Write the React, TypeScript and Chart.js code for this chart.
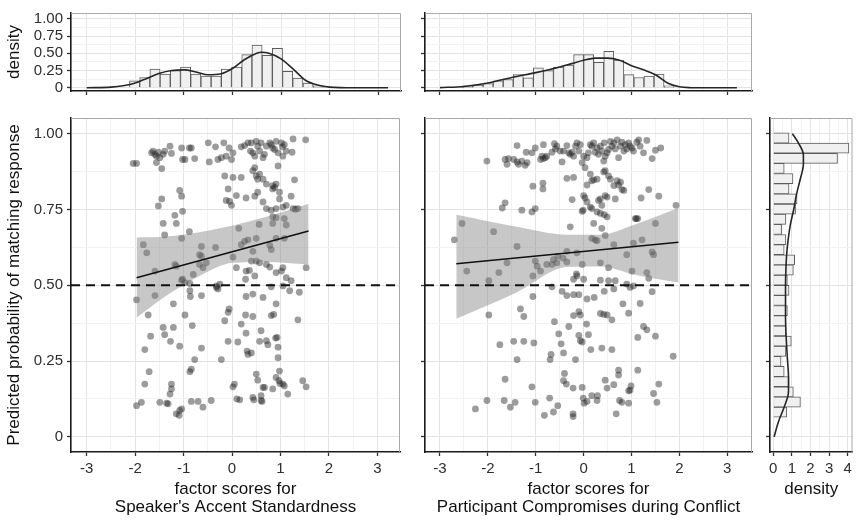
import React, { useEffect, useRef } from 'react';
import { Chart, registerables } from 'chart.js';

Chart.register(...registerables);

const FONT = '"Liberation Sans", Arial, Helvetica, sans-serif';

// ---------- tick values / labels ----------
const scoreTicks = [-3, -2, -1, 0, 1, 2, 3];
const scoreTickLabels = ['-3', '-2', '-1', '0', '1', '2', '3'];
const scoreMinor = [-2.5, -1.5, -0.5, 0.5, 1.5, 2.5];
const probTicks = [0, 0.25, 0.5, 0.75, 1];
const probTickLabels = ['0', '0.25', '0.50', '0.75', '1.00'];
const probMinor = [0.125, 0.375, 0.625, 0.875];
const densTicks = [0, 1, 2, 3, 4];
const densTickLabels = ['0', '1', '2', '3', '4'];
const densMinor = [0.5, 1.5, 2.5, 3.5];

// ---------- top-left histogram (accent standardness) ----------
const accentBinMid = [-2.015, -1.805, -1.595, -1.385, -1.175, -0.965, -0.755, -0.545, -0.335, -0.125, 0.085, 0.295, 0.505, 0.715, 0.925, 1.135, 1.345, 1.555, 1.765];
const accentBinDensity = [0.10, 0.15, 0.27, 0.20, 0.25, 0.30, 0.20, 0.17, 0.17, 0.27, 0.30, 0.48, 0.62, 0.47, 0.57, 0.24, 0.14, 0.07, 0.03];
const accentCurveX = [-3, -2.5, -2.25, -2, -1.75, -1.5, -1.25, -1, -0.75, -0.5, -0.25, 0, 0.25, 0.5, 0.6, 0.75, 1, 1.25, 1.5, 1.75, 2, 2.5, 3.2];
const accentCurveY = [0, 0.01, 0.03, 0.07, 0.14, 0.21, 0.25, 0.26, 0.23, 0.19, 0.2, 0.28, 0.41, 0.5, 0.515, 0.5, 0.42, 0.27, 0.11, 0.04, 0.01, 0, 0];

// ---------- top-middle histogram (compromises) ----------
const conflictBinMid = [-2.835, -2.625, -2.415, -2.205, -1.995, -1.785, -1.575, -1.365, -1.155, -0.945, -0.735, -0.525, -0.315, -0.105, 0.105, 0.315, 0.525, 0.735, 0.945, 1.155, 1.365, 1.575, 1.785];
const conflictBinDensity = [0.01, 0.01, 0.03, 0.04, 0.06, 0.10, 0.12, 0.19, 0.145, 0.29, 0.25, 0.30, 0.33, 0.48, 0.48, 0.37, 0.53, 0.40, 0.19, 0.15, 0.17, 0.20, 0.03];
const conflictCurveX = [-3, -2.5, -2, -1.5, -1, -0.5, -0.25, 0, 0.25, 0.5, 0.75, 1, 1.25, 1.5, 1.75, 2, 2.25, 2.5, 3.2];
const conflictCurveY = [0.003, 0.02, 0.07, 0.15, 0.22, 0.3, 0.35, 0.4, 0.43, 0.43, 0.4, 0.32, 0.26, 0.19, 0.07, 0.015, 0.002, 0, 0];

// ---------- right histogram (predicted probability) ----------
const probBinMid = [0.0815, 0.115, 0.1485, 0.182, 0.2155, 0.249, 0.2825, 0.316, 0.3495, 0.383, 0.4165, 0.45, 0.4835, 0.517, 0.5505, 0.584, 0.6175, 0.651, 0.6845, 0.718, 0.7515, 0.785, 0.8185, 0.852, 0.8855, 0.919, 0.9525, 0.986];
const probBinDensity = [0.73, 1.46, 1.08, 0.85, 0.59, 0.42, 0.68, 0.97, 0.68, 0.68, 0.76, 0.68, 0.85, 0.76, 1.08, 1.15, 0.59, 0.68, 0.45, 0.68, 1.2, 1.28, 0.85, 1.06, 0.59, 3.45, 4.06, 0.85];
const probCurveP = [0, 0.05, 0.1, 0.15, 0.2, 0.25, 0.3, 0.35, 0.4, 0.45, 0.5, 0.55, 0.6, 0.65, 0.7, 0.75, 0.8, 0.85, 0.9, 0.93, 0.97, 1.0];
const probCurveD = [0.05, 0.28, 0.6, 0.82, 0.82, 0.77, 0.72, 0.68, 0.66, 0.66, 0.66, 0.68, 0.72, 0.8, 0.92, 1.1, 1.25, 1.45, 1.62, 1.62, 1.35, 1.03];

// ---------- fitted lines and confidence bands ----------
const accentFitX = [-1.97, 1.58];
const accentFitP = [0.525, 0.679];
const accentBandX = [-1.97, -1.35, -0.67, 0.02, 0.71, 1.58];
const accentBandHi = [0.658, 0.661, 0.675, 0.697, 0.726, 0.769];
const accentBandLo = [0.393, 0.466, 0.531, 0.574, 0.577, 0.569];

const conflictFitX = [-2.66, 1.98];
const conflictFitP = [0.571, 0.642];
const conflictBandX = [-2.66, -1.39, -0.35, 0.35, 1.04, 1.98];
const conflictBandHi = [0.733, 0.693, 0.667, 0.667, 0.699, 0.755];
const conflictBandLo = [0.39, 0.477, 0.56, 0.562, 0.536, 0.509];

const chanceLevel = 0.5;

// ---------- observations: [factor score, predicted probability] ----------
const accentPoints: [number, number][] = [
  [-2.04,0.902],[-1.97,0.902],[-1.66,0.937],[-1.63,0.943],[-1.59,0.932],[-1.56,0.926],[-1.52,0.939],[-1.49,0.921],[-1.42,0.932],[-1.39,0.943],[-1.28,0.959],[-1.25,0.935],[-1.56,0.905],[-1.45,0.885],[-1.04,0.953],[-1.02,0.915],[-0.97,0.915],[-0.88,0.953],[-0.84,0.953],[-0.77,0.918],[-0.49,0.970],[-0.47,0.907],[-0.34,0.957],[-0.29,0.915],[-0.22,0.921],[-0.17,0.970],[-0.12,0.926],[-0.06,0.953],[-0.01,0.915],[0.02,0.937],[0.19,0.957],[0.26,0.961],[0.33,0.970],[0.38,0.943],[0.40,0.970],[0.43,0.937],[0.47,0.926],[0.50,0.975],[0.53,0.959],[0.57,0.943],[0.60,0.970],[0.64,0.921],[0.67,0.932],[0.71,0.959],[0.78,0.970],[0.81,0.964],[0.84,0.953],[0.88,0.948],[0.91,0.975],[0.95,0.937],[1.02,0.970],[1.04,0.957],[1.05,0.926],[1.08,0.964],[1.12,0.943],[1.26,0.983],[1.24,0.939],[1.52,0.980],
  [0.43,0.878],[0.47,0.888],[0.50,0.861],[0.53,0.850],[0.57,0.867],[0.64,0.850],[0.53,0.807],[0.71,0.834],[0.84,0.829],[0.88,0.823],[0.91,0.834],[0.95,0.894],[0.98,0.807],[1.29,0.848],[0.84,0.818],
  [-0.15,0.861],[0.02,0.856],[0.19,0.856],[0.29,0.788],[0.47,0.794],[0.64,0.775],[0.71,0.753],[0.81,0.748],[0.91,0.753],[0.98,0.785],[1.05,0.758],[1.12,0.764],[1.22,0.794],[1.26,0.753],[1.31,0.751],[1.36,0.753],
  [-0.08,0.818],[-0.12,0.780],[-0.05,0.777],[-0.01,0.764],[0.09,0.796],
  [-1.08,0.813],[-1.04,0.794],[-1.02,0.744],[-1.52,0.762],[-1.45,0.785],[-1.18,0.731],[-1.15,0.704],[-1.42,0.704],[-1.39,0.666],[-1.04,0.655],[-0.88,0.677],[-0.63,0.628],
  [0.84,0.726],[0.91,0.723],[1.08,0.720],[1.12,0.699],[1.08,0.655],[0.91,0.655],[0.84,0.704],
  [0.14,0.688],[0.26,0.645],[0.33,0.650],[0.50,0.655],[0.56,0.701],[0.78,0.632],[0.81,0.618],[0.19,0.634],[0.43,0.612],[0.40,0.580],[0.50,0.580],[0.57,0.574],[0.71,0.569],[0.78,0.560],[0.91,0.542],[1.02,0.547],[1.05,0.558],[1.12,0.525],[1.22,0.515],[1.53,0.558],[0.02,0.593],[0.09,0.558],[0.28,0.520],[0.29,0.547],[0.36,0.549],[0.47,0.531],[0.81,0.495],[1.05,0.498],[1.19,0.482],[1.39,0.477],
  [-1.83,0.634],[-1.76,0.607],[-1.59,0.547],[-1.18,0.569],[-1.15,0.563],[-1.04,0.517],[-1.02,0.520],[-0.97,0.509],[-0.87,0.506],[-0.80,0.536],[-0.67,0.601],[-0.63,0.596],[-0.60,0.558],[-0.53,0.574],[-0.34,0.625],[-0.32,0.498],[-0.29,0.488],[-0.67,0.569],[-0.25,0.504],
  [-1.97,0.452],[-1.59,0.466],[-1.21,0.439],[-0.87,0.482],[-0.86,0.463],[-0.63,0.466],[-0.32,0.493],[0.29,0.463],[0.43,0.471],[0.64,0.460],[0.91,0.439],
  [-1.97,0.103],[-1.87,0.114],[-1.80,0.288],[-1.80,0.174],[-1.73,0.402],[-1.71,0.215],[-1.68,0.332],[-1.49,0.114],[-1.42,0.361],[-1.39,0.337],[-1.35,0.111],[-1.32,0.109],[-1.28,0.141],[-1.25,0.174],[-1.25,0.158],[-1.27,0.315],[-1.21,0.361],[-1.15,0.076],[-1.09,0.071],[-1.08,0.087],[-1.08,0.299],[-1.04,0.092],[-0.97,0.402],[-0.87,0.215],[-0.84,0.223],[-0.84,0.117],[-0.82,0.367],[-0.77,0.255],[-0.70,0.117],[-0.63,0.293],[-0.60,0.098],[-0.43,0.120],[-0.22,0.255],[-0.15,0.383],[-0.08,0.411],[-0.06,0.422],[-0.08,0.315],[0.02,0.165],[0.05,0.174],[0.10,0.125],[0.12,0.313],[0.16,0.122],[0.19,0.372],[0.28,0.402],[0.29,0.342],[0.33,0.272],[0.31,0.283],[0.40,0.277],[0.43,0.397],[0.50,0.207],[0.53,0.187],[0.57,0.315],[0.60,0.350],[0.60,0.136],[0.62,0.117],[0.64,0.163],[0.67,0.163],[0.71,0.317],[0.74,0.304],[0.81,0.400],[0.84,0.158],[0.86,0.404],[0.90,0.326],[0.93,0.328],[0.95,0.296],[0.95,0.261],[0.91,0.196],[0.98,0.217],[0.97,0.185],[0.99,0.176],[1.05,0.174],[1.08,0.168],[1.15,0.141],[1.36,0.386],[1.46,0.185],[1.53,0.165],[0.43,0.130],[0.45,0.122],[0.60,0.120],
];

const conflictPoints: [number, number][] = [
  [-2.02,0.910],[-1.64,0.915],[-1.60,0.899],[-1.57,0.918],[-1.46,0.915],[-1.39,0.907],[-1.36,0.899],[-1.29,0.910],[-1.22,0.896],[-1.18,0.905],[-1.39,0.961],[-1.20,0.939],[-1.08,0.937],[-1.01,0.953],[-0.90,0.915],[-0.87,0.926],[-0.84,0.918],[-0.80,0.921],[-0.77,0.926],[-0.84,0.964],[-0.66,0.939],[-0.61,0.967],[-0.59,0.950],[-0.56,0.959],[-0.49,0.943],[-0.45,0.907],[-0.42,0.943],[-0.35,0.961],[-0.31,0.937],[-0.28,0.932],[-0.24,0.939],[-0.21,0.926],[-0.17,0.959],[-0.14,0.970],[-0.10,0.943],[-0.07,0.964],[-0.03,0.905],[0.00,0.926],[0.03,0.888],[0.07,0.921],[0.10,0.937],[0.14,0.964],[0.17,0.959],[0.21,0.970],[0.24,0.939],[0.28,0.953],[0.31,0.932],[0.35,0.959],[0.38,0.943],[0.42,0.910],[0.43,0.970],[0.45,0.926],[0.49,0.937],[0.52,0.948],[0.56,0.975],[0.59,0.959],[0.63,0.970],[0.66,0.950],[0.70,0.980],[0.73,0.921],[0.77,0.959],[0.80,0.972],[0.84,0.943],[0.87,0.964],[0.90,0.950],[0.94,0.970],[0.97,0.959],[1.01,0.953],[1.04,0.943],[1.11,0.972],[1.15,0.980],[1.18,0.959],[1.25,0.937],[1.32,0.978],[1.43,0.918],[1.50,0.946],[1.61,0.953],
  [-0.35,0.853],[-0.21,0.856],[-0.24,0.783],[0.00,0.796],[0.03,0.788],[0.07,0.831],[0.14,0.867],[0.17,0.845],[0.21,0.848],[0.28,0.850],[0.31,0.780],[0.35,0.785],[0.38,0.764],[0.42,0.874],[0.45,0.796],[0.45,0.878],[0.49,0.791],[0.52,0.861],[0.56,0.850],[0.63,0.829],[0.66,0.785],[0.70,0.845],[0.73,0.831],[0.77,0.840],[0.80,0.816],[0.84,0.813],[-0.03,0.744],[-0.01,0.748],[0.07,0.775],[0.14,0.758],[0.17,0.753],[0.28,0.742],[0.35,0.737],[0.43,0.733],[0.49,0.726],[-1.06,0.827],[-0.85,0.837],[-0.85,0.818],[-1.70,0.755],[-1.64,0.772],[-1.29,0.748],[-1.08,0.742],[-1.01,0.753],[1.36,0.816],[1.57,0.794],[1.20,0.788],[1.08,0.720],[1.13,0.720],[1.93,0.764],[0.21,0.704],[-0.28,0.693],[0.38,0.688],
  [-2.70,0.650],[-2.54,0.704],[-1.88,0.677],[-1.39,0.628],[-2.44,0.547],[-1.98,0.515],[-1.77,0.542],[-1.60,0.574],[-1.01,0.580],[-0.97,0.563],[-0.90,0.547],[-0.77,0.569],[-0.66,0.569],[-0.63,0.585],[-0.56,0.574],[-0.54,0.596],[-0.43,0.590],[-0.35,0.612],[-0.35,0.577],[-0.14,0.607],[-0.03,0.569],[0.17,0.655],[0.24,0.650],[0.28,0.647],[0.45,0.664],[0.52,0.558],[0.63,0.634],[0.35,0.574],[0.90,0.601],[1.01,0.547],[1.04,0.639],[1.22,0.650],[1.32,0.542],[1.36,0.523],[1.43,0.610],[1.46,0.601],[1.50,0.704],[1.10,0.720],[-1.06,0.531],[-0.21,0.520],[-0.14,0.531],[0.00,0.520],[-0.15,0.538],
  [-0.66,0.495],[-0.45,0.480],[-0.35,0.466],[-0.21,0.469],[-0.10,0.469],[0.07,0.455],[0.22,0.460],[0.35,0.517],[0.43,0.480],[0.52,0.515],[0.63,0.488],[0.66,0.515],[0.90,0.504],[1.04,0.498],[0.97,0.493],[1.43,0.479],[-1.06,0.463],
  [-1.98,0.402],[-1.32,0.422],[-1.25,0.397],[-0.61,0.380],[-0.31,0.364],[-0.21,0.400],[-0.10,0.413],[-0.07,0.402],[0.06,0.372],[0.10,0.337],[0.35,0.407],[0.42,0.404],[0.49,0.402],[0.59,0.386],[0.82,0.439],[0.94,0.408],[1.18,0.440],[-0.52,0.340],[-0.10,0.335],[-0.07,0.317],[-0.03,0.313],[-0.47,0.307],[-0.42,0.277],[-0.68,0.272],[-0.70,0.255],[-0.17,0.255],[0.15,0.288],[0.38,0.293],[0.59,0.288],[1.13,0.328],[1.25,0.364],[1.32,0.353],[1.50,0.332],[-1.75,0.304],[-1.46,0.315],[-1.25,0.315],[-1.04,0.310],[-1.39,0.255],[1.87,0.266],[-0.40,0.209],[-0.42,0.185],[-0.36,0.174],[-0.22,0.161],[-0.03,0.163],[0.45,0.187],[0.49,0.161],[0.63,0.172],[0.73,0.220],[0.73,0.204],[1.13,0.220],[0.99,0.168],[0.97,0.154],[0.94,0.152],[1.46,0.143],[1.57,0.174],[-1.64,0.190],[-1.08,0.165],[-2.02,0.120],[-1.66,0.120],[-1.43,0.114],[-1.53,0.098],[-1.01,0.114],[-0.71,0.128],[-0.54,0.103],[-0.63,0.082],[-0.82,0.071],[-0.22,0.076],[-0.22,0.067],[-0.01,0.128],[0.01,0.111],[0.07,0.117],[0.17,0.136],[0.29,0.136],[0.28,0.120],[0.68,0.076],[0.75,0.120],[0.80,0.114],[0.94,0.111],[1.53,0.114],[-2.26,0.092],
];

// ---------- helpers ----------
type AxisOpts = {
  position: 'left' | 'bottom';
  min: number;
  max: number;
  majors: number[];
  minors: number[];
  labels: string[] | null;
  size: number;
  title?: string | string[];
  titlePad?: { top: number; bottom: number };
};

function axis(o: AxisOpts) {
  const all = [...o.majors, ...o.minors].filter((v) => v >= o.min && v <= o.max).sort((a, b) => a - b);
  const majorIndex = (v: number) => o.majors.findIndex((m) => Math.abs(m - v) < 1e-9);
  return {
    type: 'linear',
    position: o.position,
    min: o.min,
    max: o.max,
    offset: false,
    afterBuildTicks: (s: any) => {
      s.ticks = all.map((v) => ({ value: v }));
    },
    afterFit: (s: any) => {
      if (o.position === 'left') s.width = o.size;
      else s.height = o.size;
    },
    ticks: {
      autoSkip: false,
      maxRotation: 0,
      minRotation: 0,
      padding: 4,
      color: '#2e2e2e',
      font: { family: FONT, size: 15 },
      callback: (v: any) => {
        const i = majorIndex(Number(v));
        return o.labels && i >= 0 ? o.labels[i] : '';
      },
    },
    grid: {
      offset: false,
      color: (c: any) => (c.tick && majorIndex(c.tick.value) >= 0 ? '#e3e3e3' : '#f2f2f2'),
      tickColor: (c: any) => (c.tick && majorIndex(c.tick.value) >= 0 ? '#333333' : 'rgba(0,0,0,0)'),
      lineWidth: 1,
      tickLength: 4,
      tickWidth: 1.3,
      drawTicks: true,
    },
    border: { display: true, color: '#1a1a1a', width: 1.6 },
    title: o.title
      ? {
          display: true,
          text: o.title,
          color: '#111111',
          font: { family: FONT, size: 17, lineHeight: 1.1 },
          padding: o.titlePad ?? { top: 5, bottom: 3 },
        }
      : { display: false },
  };
}

const framePlugin = {
  id: 'panelFrame',
  beforeDatasetsDraw(chart: any) {
    const { ctx, chartArea: a } = chart;
    ctx.save();
    ctx.strokeStyle = '#a9a9a9';
    ctx.lineWidth = 1;
    ctx.beginPath();
    ctx.moveTo(a.left, a.top + 0.5);
    ctx.lineTo(a.right - 0.5, a.top + 0.5);
    ctx.lineTo(a.right - 0.5, a.bottom);
    ctx.stroke();
    ctx.restore();
  },
};

const baseOptions = {
  responsive: false,
  animation: false,
  devicePixelRatio: 1,
  events: [],
  plugins: { legend: { display: false }, tooltip: { enabled: false } },
};

const TOP_Y = { min: -0.046, max: 1.083 };
const MAIN_Y = { min: -0.05, max: 1.052 };
const LEFT_X = { min: -3.323, max: 3.467 };
const MID_X = { min: -3.313, max: 3.516 };
const RIGHT_X = { min: -0.172, max: 4.255 };

function topHistConfig(
  binMid: number[],
  binDens: number[],
  curveX: number[],
  curveY: number[],
  xr: { min: number; max: number },
  yWidth: number,
  padRight: number,
  labelled: boolean,
) {
  return {
    type: 'bar',
    data: {
      datasets: [
        {
          type: 'line',
          data: curveX.map((x, i) => ({ x, y: curveY[i] })),
          borderColor: '#262626',
          borderWidth: 1.6,
          pointRadius: 0,
          cubicInterpolationMode: 'monotone',
          fill: false,
          order: 0,
        },
        {
          type: 'bar',
          data: binMid.map((x, i) => ({ x, y: binDens[i] })),
          backgroundColor: '#f0f0f0',
          borderColor: '#5c5c5c',
          borderWidth: 1,
          barPercentage: 1,
          categoryPercentage: 1,
          order: 1,
        },
      ],
    },
    options: {
      ...baseOptions,
      layout: { padding: { top: 6, right: padRight, left: 0, bottom: 0 } },
      scales: {
        x: axis({ position: 'bottom', ...xr, majors: scoreTicks, minors: scoreMinor, labels: null, size: 7 }),
        y: axis({
          position: 'left',
          ...TOP_Y,
          majors: probTicks,
          minors: probMinor,
          labels: labelled ? probTickLabels : null,
          size: yWidth,
          title: labelled ? 'density' : undefined,
        }),
      },
    },
    plugins: [framePlugin],
  };
}

function mainConfig(
  points: [number, number][],
  fitX: number[],
  fitP: number[],
  bandX: number[],
  bandLo: number[],
  bandHi: number[],
  xr: { min: number; max: number },
  yWidth: number,
  padRight: number,
  labelled: boolean,
  xTitle: string[],
) {
  return {
    type: 'scatter',
    data: {
      datasets: [
        {
          type: 'line',
          data: [
            { x: xr.min, y: chanceLevel },
            { x: xr.max, y: chanceLevel },
          ],
          borderColor: '#111111',
          borderWidth: 2,
          borderDash: [9, 6],
          pointRadius: 0,
          fill: false,
          order: 0,
        },
        {
          type: 'line',
          data: fitX.map((x, i) => ({ x, y: fitP[i] })),
          borderColor: '#111111',
          borderWidth: 1.6,
          pointRadius: 0,
          fill: false,
          order: 1,
        },
        {
          type: 'line',
          data: bandX.map((x, i) => ({ x, y: bandHi[i] })),
          borderColor: 'rgba(0,0,0,0)',
          borderWidth: 0,
          backgroundColor: 'rgba(130,130,130,0.45)',
          pointRadius: 0,
          cubicInterpolationMode: 'monotone',
          fill: '+1',
          order: 2,
        },
        {
          type: 'line',
          data: bandX.map((x, i) => ({ x, y: bandLo[i] })),
          borderColor: 'rgba(0,0,0,0)',
          borderWidth: 0,
          pointRadius: 0,
          cubicInterpolationMode: 'monotone',
          fill: false,
          order: 3,
        },
        {
          type: 'scatter',
          data: points.map(([x, y]) => ({ x, y })),
          pointRadius: 3.4,
          pointBackgroundColor: 'rgba(35,35,35,0.45)',
          pointBorderWidth: 0,
          pointBorderColor: 'rgba(0,0,0,0)',
          order: 4,
        },
      ],
    },
    options: {
      ...baseOptions,
      layout: { padding: { top: 8, right: padRight, left: 0, bottom: 0 } },
      scales: {
        x: axis({
          position: 'bottom',
          ...xr,
          majors: scoreTicks,
          minors: scoreMinor,
          labels: scoreTickLabels,
          size: 68,
          title: xTitle,
        }),
        y: axis({
          position: 'left',
          ...MAIN_Y,
          majors: probTicks,
          minors: probMinor,
          labels: labelled ? probTickLabels : null,
          size: yWidth,
          title: labelled ? 'Predicted probability of matching response' : undefined,
        }),
      },
    },
    plugins: [framePlugin],
  };
}

function rightConfig() {
  return {
    type: 'bar',
    data: {
      datasets: [
        {
          type: 'line',
          indexAxis: 'y',
          data: probCurveP.map((p, i) => ({ x: probCurveD[i], y: p })),
          borderColor: '#262626',
          borderWidth: 1.6,
          pointRadius: 0,
          cubicInterpolationMode: 'monotone',
          fill: false,
          order: 0,
        },
        {
          type: 'bar',
          indexAxis: 'y',
          data: probBinMid.map((p, i) => ({ x: probBinDensity[i], y: p })),
          backgroundColor: '#f0f0f0',
          borderColor: '#5c5c5c',
          borderWidth: 1,
          barPercentage: 1,
          categoryPercentage: 1,
          order: 1,
        },
      ],
    },
    options: {
      ...baseOptions,
      indexAxis: 'y',
      layout: { padding: { top: 8, right: 1, left: 0, bottom: 0 } },
      scales: {
        x: axis({
          position: 'bottom',
          ...RIGHT_X,
          majors: densTicks,
          minors: densMinor,
          labels: densTickLabels,
          size: 68,
          title: 'density',
          titlePad: { top: 4, bottom: 21 },
        }),
        y: axis({ position: 'left', ...MAIN_Y, majors: probTicks, minors: probMinor, labels: null, size: 14 }),
      },
    },
    plugins: [framePlugin],
  };
}

function ChartBox(props: { left: number; top: number; width: number; height: number; build: () => any }) {
  const ref = useRef<HTMLCanvasElement | null>(null);
  useEffect(() => {
    const chart = new Chart(ref.current as HTMLCanvasElement, props.build());
    return () => chart.destroy();
  }, []);
  return (
    <canvas
      ref={ref}
      width={props.width}
      height={props.height}
      style={{ position: 'absolute', left: props.left, top: props.top, width: props.width, height: props.height }}
    />
  );
}

export default function App() {
  return (
    <div style={{ position: 'fixed', left: 0, top: 0, width: 856, height: 520, background: '#ffffff', overflow: 'hidden' }}>
      <ChartBox
        left={0}
        top={0}
        width={404}
        height={104}
        build={() => topHistConfig(accentBinMid, accentBinDensity, accentCurveX, accentCurveY, LEFT_X, 71, 3, true)}
      />
      <ChartBox
        left={404}
        top={0}
        width={352}
        height={104}
        build={() => topHistConfig(conflictBinMid, conflictBinDensity, conflictCurveX, conflictCurveY, MID_X, 21, 4, false)}
      />
      <ChartBox
        left={0}
        top={105}
        width={404}
        height={415}
        build={() =>
          mainConfig(accentPoints, accentFitX, accentFitP, accentBandX, accentBandLo, accentBandHi, LEFT_X, 71, 3, true, [
            'factor scores for',
            "Speaker's Accent Standardness",
          ])
        }
      />
      <ChartBox
        left={404}
        top={105}
        width={352}
        height={415}
        build={() =>
          mainConfig(conflictPoints, conflictFitX, conflictFitP, conflictBandX, conflictBandLo, conflictBandHi, MID_X, 21, 4, false, [
            'factor scores for',
            'Participant Compromises during Conflict',
          ])
        }
      />
      <ChartBox left={756} top={105} width={100} height={415} build={rightConfig} />
    </div>
  );
}
